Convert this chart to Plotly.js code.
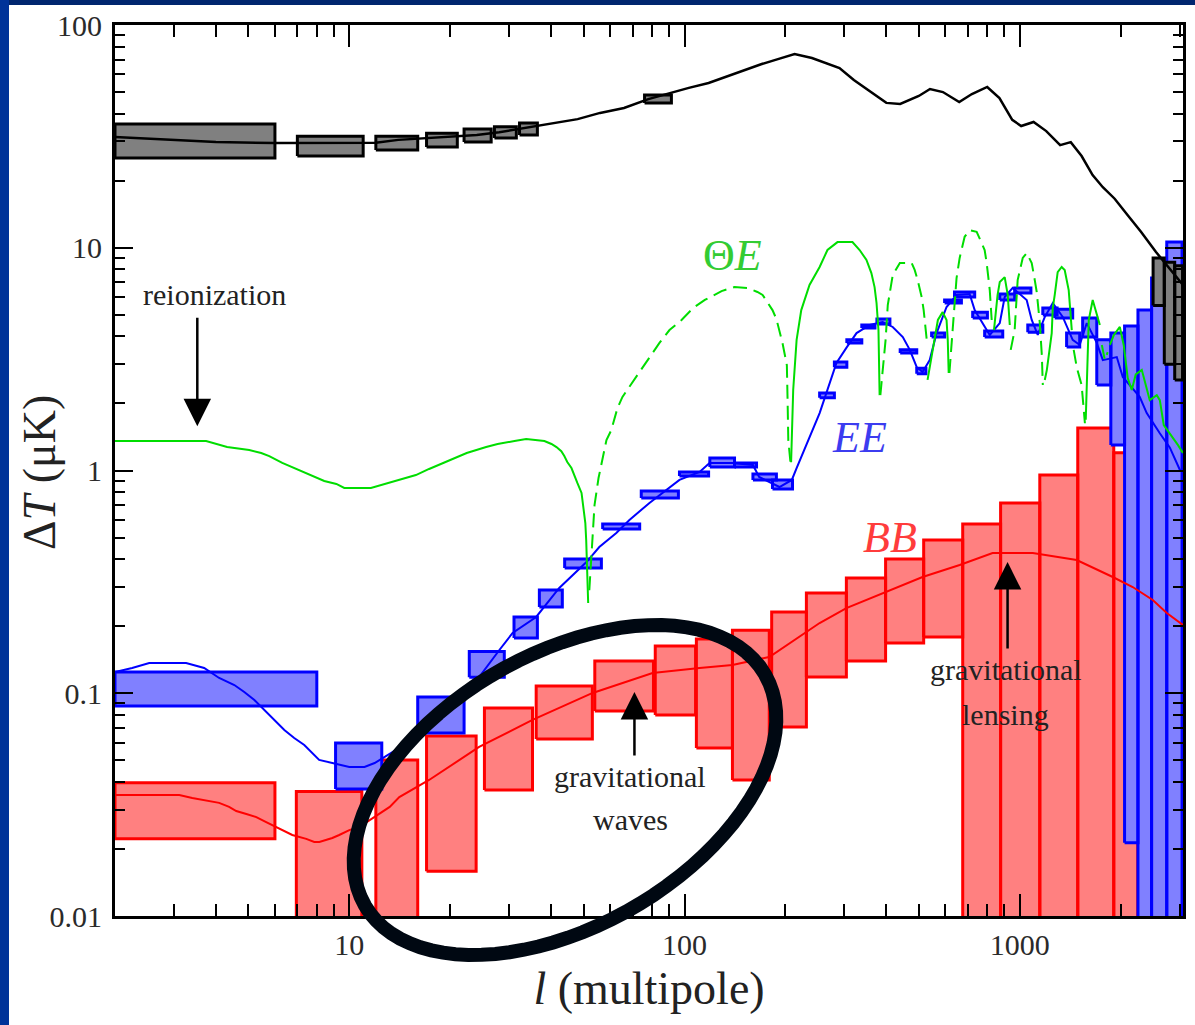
<!DOCTYPE html>
<html><head><meta charset="utf-8">
<script src="https://cdn.plot.ly/plotly-3.0.1.min.js"></script>
<style>html,body{margin:0;padding:0;background:#fff;}#chart{width:1195px;height:1025px;}</style>
</head><body><div id="chart"></div>
<script>
// ---- Axis ticks ----
const xTickVals = [10, 100, 1000];
const xTickText = ['10', '100', '1000'];
const yTickVals = [0.01, 0.1, 1, 10, 100];
const yTickText = ['0.01', '0.1', '1', '10', '100'];

// ---- TT (temperature) theory curve, ΔT in μK ----
const ttL = [2,3,4,6,8,10,12,14,17,20,24,28,33,40,48,56,66,78,90,103,118,135,152,170,190,213,240,260,290,320,360,400,440,500,540,590,660,720,800,870,950,1010,1100,1200,1320,1420,1530,1650,1770,1920,2100,2300,2550,2800,3070];
const ttV = [31.4,30.5,29.8,29.5,29.5,29.5,29.6,30.5,31.1,31.4,32.1,33.0,34.4,36.3,37.8,40.3,42.4,46.5,49.5,52.2,54.9,59.0,62.8,66.8,70.3,74.1,71.1,68.2,64.1,56.6,50.0,44.7,44.2,48.0,51.6,50.0,45.1,49.0,52.7,47.0,37.5,35.2,36.7,33.4,28.9,29.8,25.8,21.2,18.7,16.6,14.0,11.8,9.57,8.11,6.81];
// TT error boxes
const ttBoxL0 = [2, 7, 12, 17, 22, 27.1, 32.2, 76, 2500, 2700, 2900];
const ttBoxL1 = [6, 11, 16, 21, 26.5, 31.5, 36.4, 91.4, 2700, 2900, 3060];
const ttBoxLo = [25.3, 25.8, 27.5, 28.3, 29.8, 31.1, 32.1, 44.7, 5.5, 3.0, 2.55];
const ttBoxHi = [35.9, 31.7, 31.7, 32.7, 34.1, 34.9, 36.3, 48.5, 9.0, 8.6, 8.3];

// ---- EE theory curve ----
const eeL = [2,2.25,2.53,3.26,3.69,4.09,4.54,4.86,5.21,5.58,5.97,6.4,6.85,7.34,8.13,9.02,10,11.1,11.9,14.1,16.2,19.2,22.0,24.4,28.0,30.7,36.1,42.3,51.0,55.7,62.6,68.5,78.6,88.3,96.6,110.9,118.8,139,160,167,192,209,216,253,265,284,305,326,357,390,418,448,470,493,513,539,565,605,648,709,734,776,814,872,902,953,1049,1086,1132,1188,1255,1344,1439,1510,1585,1698,1770,1948,2030,2280,2393,2618,2803,3006,3070];
const eeV = [0.1246,0.1298,0.1367,0.1367,0.1298,0.1171,0.1089,0.1013,0.0932,0.0841,0.0759,0.0684,0.0630,0.0586,0.0502,0.0486,0.0467,0.0467,0.0486,0.0568,0.070,0.0868,0.1034,0.1183,0.156,0.1865,0.220,0.297,0.388,0.4534,0.524,0.600,0.715,0.818,0.907,0.985,1.081,1.081,1.058,0.935,0.843,0.907,1.026,1.81,2.23,3.04,3.58,4.14,4.50,4.64,4.41,3.97,3.48,2.91,2.77,3.13,4.14,5.42,6.14,6.20,5.25,4.59,4.06,4.59,6.01,6.60,5.83,4.74,4.06,4.89,5.65,4.89,3.86,3.66,4.59,3.74,3.13,3.23,2.63,2.14,1.81,1.47,1.27,1.005,1.0];
// EE error boxes
const eeBoxL0 = [2,9.1,16,22.8,31,36.9,43.9,57,74.3,96.6,119,141,160,183,253,280,305,338,375,440,493,546,597,639,724,786,872,966,1057,1172,1272,1380,1541,1698,1870,2055,2253,2474,2746];
const eeBoxL1 = [8,12.5,22,29,36.4,43.2,56.5,73.5,95.9,118,141,164,188,210,280,305,338,370,410,493,525,597,670,734,801,890,966,1080,1172,1293,1439,1510,1698,1870,2055,2253,2474,2746,3050];
const eeBoxLo = [0.0877,0.0372,0.0663,0.118,0.177,0.244,0.365,0.546,0.752,0.945,1.037,1.037,0.907,0.826,2.12,2.91,3.74,4.36,4.55,3.37,2.72,3.97,5.65,6.01,4.84,3.97,5.83,6.26,4.18,4.99,4.84,3.58,3.97,2.42,1.30,0.0213,0.004,0.004,0.004];
const eeBoxHi = [0.1246,0.0598,0.0962,0.154,0.220,0.291,0.4005,0.575,0.809,0.985,1.138,1.08,0.964,0.907,2.23,3.07,3.86,4.50,4.79,3.48,2.88,4.14,5.83,6.33,5.14,4.23,6.20,6.60,4.50,5.36,5.30,4.14,4.84,3.86,4.14,4.45,5.25,7.31,10.6];

// ---- BB theory curve ----
const bbL = [2,3.11,3.40,3.82,4.09,4.38,4.60,4.93,5.28,5.65,6.05,6.49,6.76,7.44,7.86,8.14,8.90,9.33,10,10.7,11.5,12.3,13.2,14.1,17.3,24.4,35.2,53.2,80.3,110.9,139,179,220,253,304,390,513,662,830,1094,1479,1895,2173,2494,2746,3068];
const bbV = [0.0349,0.0349,0.0339,0.0328,0.0322,0.0309,0.0296,0.0287,0.0278,0.0264,0.0251,0.0238,0.0231,0.0222,0.0215,0.0215,0.0224,0.0231,0.0243,0.0251,0.0270,0.0290,0.0309,0.0342,0.0408,0.0574,0.0759,0.1003,0.1233,0.1298,0.1339,0.1455,0.1788,0.2067,0.2413,0.2818,0.3325,0.3765,0.4262,0.4262,0.3963,0.3325,0.2999,0.2622,0.2293,0.2025];
// BB error boxes
const bbBoxL0 = [2,6.95,12.0,17.0,25.3,36.1,54,81.8,108.5,139,182,231,304,398,517,676,877,1148,1490,1908];
const bbBoxL1 = [6,10.9,16.0,23.9,35.2,53.1,80.8,107.9,139,179,231,304,398,517,676,877,1148,1490,1908,2250];
const bbBoxLo = [0.0222,0.004,0.004,0.0159,0.0368,0.0623,0.0832,0.0799,0.0568,0.0408,0.0706,0.1183,0.1396,0.168,0.1788,0.004,0.004,0.004,0.004,0.004];
const bbBoxHi = [0.0396,0.0362,0.0502,0.0643,0.0859,0.1078,0.1396,0.163,0.175,0.192,0.2316,0.282,0.329,0.4005,0.4875,0.575,0.715,0.954,1.552,1.2];

// ---- ΘE cross spectrum |ΘE| by segment; sign +1 solid (positive), -1 dashed (negative) ----
const teSegL = [
 [2,3.74,4.32,5.03,5.46,5.77,6.31,6.95,7.70,8.42,9.15,9.66,11.6,12.7,13.8,14.6,15.8,17.3,19.0,20.2,22.4,25.6,27.7,31.1,33.7,38.2,40.1,41.5,42.9,43.8,44.7,46.0,47.0,47.9,49.3,49.9,50.6,50.9,51.3,51.6],
 [52.0,53.1,53.9,55.4,56.5,58.5,60.5,63.1,65.3,70.0,73.4,80.3,84.2,90.2,98,106,115,129,141,154,165,171,183,188,196,202,203,204,207],
 [208,211,216,223,236,253,267,286,317,333,349,361,369,374,379,382],
 [384,398,404,418,439,476,486,496,510,517,528],
 [531,557,570,589,605,610,614],
 [617,626,648,662,685,709,744,786,797,814,825],
 [838,859,872,902,921,934],
 [940,966,986,1021,1049,1086,1109,1124,1148,1164,1172],
 [1188,1205,1246,1255,1272,1298,1334,1362,1400,1430],
 [1449,1480,1530,1565],
 [1574,1607,1651,1698,1734],
 [1758,1795,1830],
 [1858,1910,1989,2043,2100,2159,2219,2313,2377,2443,2564,2618,2690,2803,2967,3068]
];
const teSegV = [
 [1.356,1.356,1.274,1.236,1.198,1.161,1.081,1.016,0.954,0.897,0.870,0.835,0.835,0.870,0.897,0.925,0.954,1.016,1.081,1.126,1.198,1.274,1.315,1.356,1.384,1.356,1.315,1.274,1.22,1.161,1.092,1.026,0.954,0.879,0.793,0.679,0.581,0.4875,0.3573,0.254],
 [0.29,0.4875,0.70,0.925,1.058,1.370,1.52,1.908,2.14,2.496,2.80,3.37,3.74,4.27,4.74,5.36,5.83,6.39,6.66,6.60,6.33,6.14,5.25,4.79,3.74,2.97,2.07,1.37,1.092],
 [1.09,2.30,3.86,5.25,6.81,8.20,9.77,10.6,10.6,9.77,8.81,7.70,6.66,5.65,4.27,2.18],
 [2.18,3.86,5.53,7.54,8.54,8.54,7.95,7.16,6.01,5.25,3.86],
 [2.55,3.86,4.74,5.14,4.74,3.86,2.74],
 [2.74,3.66,7.31,9.0,11.2,12.0,11.8,9.77,8.54,6.46,4.74],
 [4.27,6.14,7.02,7.38,6.14,4.50],
 [3.48,4.27,7.16,9.0,9.47,8.54,7.16,6.33,4.59,3.30,2.42],
 [2.55,2.83,4.14,5.36,6.14,7.78,8.20,7.95,6.46,4.27],
 [3.48,2.9,2.42,1.63],
 [1.69,4.74,5.83,4.99,4.50],
 [3.66,3.13,3.4],
 [3.66,4.06,4.41,3.66,2.60,2.30,2.70,2.83,2.42,2.07,2.18,2.07,1.60,1.47,1.30,1.198]
];
const teSign = [1,-1,1,-1,1,-1,1,-1,1,-1,1,-1,1];

// ---- helpers ----
function boxPath(l0, l1, lo, hi) {
  const x = [], y = [];
  for (let i = 0; i < l0.length; i++) {
    x.push(l0[i], l1[i], l1[i], l0[i], l0[i], null);
    y.push(lo[i], lo[i], hi[i], hi[i], lo[i], null);
  }
  return {x, y};
}
function teTrace(want) {
  const x = [], y = [];
  teSegL.forEach((seg, i) => {
    if (teSign[i] !== want) return;
    seg.forEach((l, j) => { x.push(l); y.push(teSegV[i][j]); });
    x.push(null); y.push(null);
  });
  return {x, y};
}

const bbB = boxPath(bbBoxL0, bbBoxL1, bbBoxLo, bbBoxHi);
const eeB = boxPath(eeBoxL0, eeBoxL1, eeBoxLo, eeBoxHi);
const ttB = boxPath(ttBoxL0, ttBoxL1, ttBoxLo, ttBoxHi);
const teP = teTrace(1), teN = teTrace(-1);

const traces = [
  {x: bbB.x, y: bbB.y, mode: 'lines', fill: 'toself', fillcolor: '#ff8080', line: {color: '#ff0000', width: 3}, connectgaps: false, hoverinfo: 'skip'},
  {x: eeB.x, y: eeB.y, mode: 'lines', fill: 'toself', fillcolor: '#8080ff', line: {color: '#0000ff', width: 3}, connectgaps: false, hoverinfo: 'skip'},
  {x: ttB.x, y: ttB.y, mode: 'lines', fill: 'toself', fillcolor: '#808080', line: {color: '#000000', width: 3}, connectgaps: false, hoverinfo: 'skip'},
  {x: bbL, y: bbV, mode: 'lines', line: {color: '#ff0000', width: 2}},
  {x: eeL, y: eeV, mode: 'lines', line: {color: '#0000ff', width: 2}},
  {x: teP.x, y: teP.y, mode: 'lines', line: {color: '#00dd00', width: 2}, connectgaps: false},
  {x: teN.x, y: teN.y, mode: 'lines', line: {color: '#00dd00', width: 2, dash: '14px,7px'}, connectgaps: false},
  {x: ttL, y: ttV, mode: 'lines', line: {color: '#000000', width: 2.5}}
];

// paper-coordinate helpers for decorations (plot area 115..1183 x 25..916 px)
const PL = 115, PT = 25, PW = 1068, PH = 891;
const px2paperX = p => (p - PL) / PW;
const px2paperY = p => (PT + PH - p) / PH;

// highlight ellipse (pixel geometry)
const ellipse = {cx: 565, cy: 790, a: 231, b: 136, angle: 30};
function ellipsePath(e) {
  const th = e.angle * Math.PI / 180; let d = '';
  for (let k = 0; k <= 90; k++) {
    const t = 2 * Math.PI * k / 90;
    const dx = e.a * Math.cos(t) * Math.cos(th) - e.b * Math.sin(t) * Math.sin(th);
    const dy = e.a * Math.cos(t) * Math.sin(th) + e.b * Math.sin(t) * Math.cos(th);
    d += (k === 0 ? 'M' : 'L') + px2paperX(e.cx + dx).toFixed(5) + ',' + px2paperY(e.cy - dy).toFixed(5);
  }
  return d + 'Z';
}

const serif = 'Liberation Serif, Times New Roman, serif';
const lg = Math.log10;
function txt(l, v, text, size, color, extra) {
  return Object.assign({x: lg(l), y: lg(v), xref: 'x', yref: 'y', text: text, showarrow: false,
    xanchor: 'center', yanchor: 'middle',
    font: {family: serif, size: size, color: color}}, extra || {});
}
function arrow(l, v, ay) {
  return {x: lg(l), y: lg(v), xref: 'x', yref: 'y', ax: 0, ay: ay, text: '', showarrow: true,
    arrowhead: 2, arrowsize: 2.2, arrowwidth: 2.5, arrowcolor: '#000'};
}

const annotations = [
  txt(3.95, 6.14, 'reionization', 30, '#222'),
  arrow(3.52, 1.58, -110),
  txt(69.0, 0.0421, 'gravitational', 30, '#222'),
  txt(69.0, 0.027, 'waves', 30, '#222'),
  arrow(70.9, 0.1013, 65),
  txt(908, 0.1272, 'gravitational', 30, '#222'),
  txt(908, 0.0799, 'lensing', 30, '#222'),
  arrow(920, 0.388, 88),
  txt(139, 9.2, 'Θ<i>E</i>', 44, '#33cc33'),
  txt(333, 1.40, '<i>EE</i>', 44, '#3c3cf0'),
  txt(409, 0.498, '<i>BB</i>', 44, '#ff3c3c'),
  {x: px2paperX(40), y: px2paperY(473), xref: 'paper', yref: 'paper', text: 'Δ<i>T</i> (μK)', textangle: -90,
   xanchor: 'center', yanchor: 'middle',
   showarrow: false, font: {family: serif, size: 46, color: '#222'}}
];

const shapes = [
  {type: 'rect', xref: 'paper', yref: 'paper', x0: px2paperX(0), x1: px2paperX(1195), y0: px2paperY(5), y1: px2paperY(0), fillcolor: '#00266f', line: {width: 0}, layer: 'above'},
  {type: 'rect', xref: 'paper', yref: 'paper', x0: px2paperX(0), x1: px2paperX(9), y0: px2paperY(1025), y1: px2paperY(0), fillcolor: '#003399', line: {width: 0}, layer: 'above'},
  {type: 'path', xref: 'paper', yref: 'paper', path: ellipsePath(ellipse), line: {color: '#000812', width: 14}, fillcolor: 'rgba(0,0,0,0)', layer: 'above'}
];

const axisCommon = {
  type: 'log', showline: true, linecolor: '#000', linewidth: 3, mirror: 'ticks',
  ticks: 'inside', tickwidth: 2, tickcolor: '#000', showgrid: false, zeroline: false,
  tickmode: 'array', tickfont: {family: serif, size: 30, color: '#2a2a2a'}
};

const layout = {
  width: 1195, height: 1025,
  margin: {l: 115, r: 12, t: 25, b: 109},
  paper_bgcolor: '#ffffff', plot_bgcolor: '#ffffff', showlegend: false,
  font: {family: serif, color: '#222'},
  xaxis: Object.assign({}, axisCommon, {
    range: [lg(2), lg(3070)], tickvals: xTickVals, ticktext: xTickText, ticklen: 22,
    minor: {ticks: 'inside', ticklen: 12, tickwidth: 2, tickcolor: '#000', dtick: 'D1', showgrid: false},
    title: {text: '<i>l</i> (multipole)', font: {family: serif, size: 46, color: '#222'}, standoff: 12}
  }),
  yaxis: Object.assign({}, axisCommon, {
    range: [-2, 2], tickvals: yTickVals, ticktext: yTickText, ticklen: 18, ticklabelstandoff: 4,
    minor: {ticks: 'inside', ticklen: 10, tickwidth: 2, tickcolor: '#000', dtick: 'D1', showgrid: false}
  }),
  annotations: annotations,
  shapes: shapes
};

Plotly.newPlot('chart', traces, layout, {staticPlot: true, displayModeBar: false});
</script>
</body></html>
